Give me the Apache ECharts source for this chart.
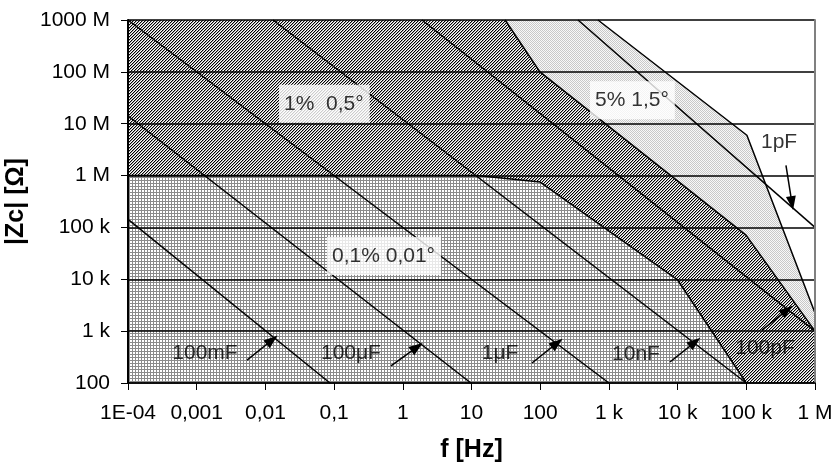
<!DOCTYPE html>
<html>
<head>
<meta charset="utf-8">
<script src="https://cdn.jsdelivr.net/npm/echarts@6/dist/echarts.min.js"></script>
<style>
  html, body { margin: 0; padding: 0; background: #fff; }
  #chart { width: 839px; height: 464px; }
</style>
</head>
<body>
<div id="chart"></div>
<script>
const FONT = 'Liberation Sans, Arial, sans-serif';

// axis tick labels, one per decade
const freqLabels = ['1E-04', '0,001', '0,01', '0,1', '1', '10', '100', '1 k', '10 k', '100 k', '1 M'];
const zLabels = ['100', '1 k', '10 k', '100 k', '1 M', '10 M', '100 M', '1000 M'];

// capacitor lines, [f, |Z|] at both ends
const capNames = ['100mF', '100μF', '1μF', '10nF', '100pF', '1pF'];
const capLines = [
  [[8.4e-5, 1.73e5], [0.087, 100]],
  [[8.4e-5, 1.69e7], [9.8, 100]],
  [[1e-4, 1e9], [1000, 100]],
  [[0.0129, 1e9], [1e5, 100]],
  [[1.9, 1e9], [1e6, 1000]],
  [[355, 1e9], [1e6, 1e5]]
];
const capLabelPos = [[0.00132, 378], [0.176, 378], [26, 378], [2478, 362], [1.87e5, 472], [3.0e5, 4.4e6]];
const capArrows = [
  [[0.0054, 277], [0.0125, 675]],
  [[0.673, 213], [1.61, 494]],
  [[76, 243], [176, 590]],
  [[7745, 254], [17900, 616]],
  [[1.69e5, 1050], [3.92e5, 2550]],
  [[3.78e5, 1.58e6], [4.62e5, 2.94e5]]
];

// accuracy zones
const zoneNames = ['0,1% 0,01°', '1%  0,5°', '5% 1,5°'];
const zoneLabelPos = [[0.0789, 2.8e4], [0.0158, 2.43e7], [531, 2.84e7]];
const zoneFineEdge = [[1e-4, 1e6], [12, 1e6], [100, 7.5e5], [1e4, 9.7e3], [1e5, 100]];
const zoneMidEdge = [[30.8, 1e9], [99, 1e8], [9.9e4, 7.1e4], [1e6, 1000]];
const zoneOuterEdge = [[693, 1e9], [1.02e5, 6.0e6], [1e6, 2230]];

function tile(w, h, fn) {
  const c = document.createElement('canvas');
  c.width = w; c.height = h;
  const ctx = c.getContext('2d');
  for (let y = 0; y < h; y++) {
    for (let x = 0; x < w; x++) {
      ctx.fillStyle = fn(x, y);
      ctx.fillRect(x, y, 1, 1);
    }
  }
  return { image: c, repeat: 'repeat' };
}

const hatchDark = tile(3, 3, (x, y) => {
  const k = (x + y) % 3;
  return k === 0 ? '#000' : k === 1 ? '#a8a8a8' : '#fff';
});
const gridFine = tile(3, 3, (x, y) => (x === 0 || y === 0 ? '#8a8a8a' : '#fff'));
const dotsLight = tile(2, 2, (x, y) => ((x + y) % 2 === 0 ? '#c8c8c8' : '#f8f8f8'));

function zone(points, fill, z) {
  return {
    type: 'custom',
    z: z,
    silent: true,
    animation: false,
    encode: { x: 0, y: 1 },
    data: points,
    renderItem: (params, api) => {
      if (params.dataIndex !== 0) return null;
      return {
        type: 'polygon',
        shape: { points: points.map((p) => api.coord(p)) },
        style: { fill: fill }
      };
    }
  };
}

function edge(points, z) {
  return {
    type: 'line',
    z: z,
    silent: true,
    animation: false,
    clip: false,
    symbol: 'none',
    lineStyle: { color: '#000', width: 1.5 },
    data: points
  };
}

let myChart = echarts.init(document.getElementById('chart'), null, { renderer: 'canvas' });

let series = [
  zone([[1e-4, 100], [1e-4, 1e9], [1e6, 1e9], [1e6, 100]], hatchDark, 1),
  zone(zoneMidEdge.concat([[1e6, 1e9]]), dotsLight, 1),
  zone(zoneOuterEdge.concat([[1e6, 1e9]]), '#fff', 1),
  zone([[1e-4, 100]].concat(zoneFineEdge), gridFine, 1),
  edge(zoneFineEdge, 3),
  edge(zoneMidEdge, 3),
  edge(zoneOuterEdge, 3)
];

capLines.forEach((l) => series.push(edge(l, 3)));

// arrows
series.push({
  type: 'line',
  z: 10,
  data: [],
  markLine: {
    silent: true,
    animation: false,
    symbol: ['none', 'triangle'],
    symbolSize: [10, 14],
    label: { show: false },
    lineStyle: { color: '#000', width: 1.5, type: 'solid' },
    data: capArrows.map((a) => [{ coord: a[0] }, { coord: a[1] }])
  }
});

// capacitor labels
series.push({
  type: 'scatter',
  z: 10,
  silent: true,
  symbolSize: 0,
  data: capLabelPos.map((p, i) => ({ value: p, name: capNames[i] })),
  label: {
    show: true,
    position: 'inside',
    formatter: '{b}',
    color: '#000',
    fontSize: 21,
    fontFamily: FONT
  }
});

// zone labels in white boxes
series.push({
  type: 'scatter',
  z: 10,
  silent: true,
  symbolSize: 0,
  data: zoneLabelPos.map((p, i) => ({ value: p, name: zoneNames[i] })),
  label: {
    show: true,
    position: 'right',
    distance: 0,
    formatter: '{b}',
    color: '#000',
    fontSize: 21,
    fontFamily: FONT,
    backgroundColor: '#fff',
    padding: [9, 6, 8, 5]
  }
});

let option = {
  animation: false,
  backgroundColor: '#fff',
  grid: { left: 128, right: 24, top: 20, bottom: 81, containLabel: false, outerBoundsMode: 'none' },
  xAxis: {
    type: 'log',
    logBase: 10,
    min: 1e-4,
    max: 1e6,
    interval: 1,
    z: 5,
    name: 'f [Hz]',
    nameLocation: 'middle',
    nameGap: 55,
    nameTextStyle: { fontSize: 25, fontWeight: 'bold', color: '#000', fontFamily: FONT },
    axisLine: { lineStyle: { color: '#000', width: 1.5 } },
    axisTick: { show: true, length: 7, lineStyle: { color: '#000', width: 1 } },
    minorTick: { show: false },
    splitLine: { show: false },
    axisLabel: {
      margin: 20,
      color: '#000',
      fontSize: 21,
      fontFamily: FONT,
      formatter: (v) => freqLabels[Math.round(Math.log10(v)) + 4]
    }
  },
  yAxis: [
    {
      type: 'log',
      logBase: 10,
      min: 100,
      max: 1e9,
      interval: 1,
      z: 5,
      name: '|Zc| [Ω]',
      nameLocation: 'middle',
      nameGap: 79,
      nameTextStyle: { fontSize: 25, fontWeight: 'bold', color: '#000', fontFamily: FONT },
      axisLine: { show: true, lineStyle: { color: '#000', width: 2 } },
      axisTick: { show: true, length: 7, lineStyle: { color: '#000', width: 1 } },
      splitLine: { show: true, lineStyle: { color: '#000', width: 1.5 } },
      axisLabel: {
        margin: 18,
        color: '#000',
        fontSize: 21,
        fontFamily: FONT,
        formatter: (v) => zLabels[Math.round(Math.log10(v)) - 2]
      }
    },
    {
      type: 'log',
      logBase: 10,
      min: 100,
      max: 1e9,
      position: 'right',
      z: 5,
      axisLine: { show: true, lineStyle: { color: '#808080', width: 2 } },
      axisTick: { show: false },
      axisLabel: { show: false },
      splitLine: { show: false }
    }
  ],
  series: series
};

myChart.setOption(option);
</script>
</body>
</html>
